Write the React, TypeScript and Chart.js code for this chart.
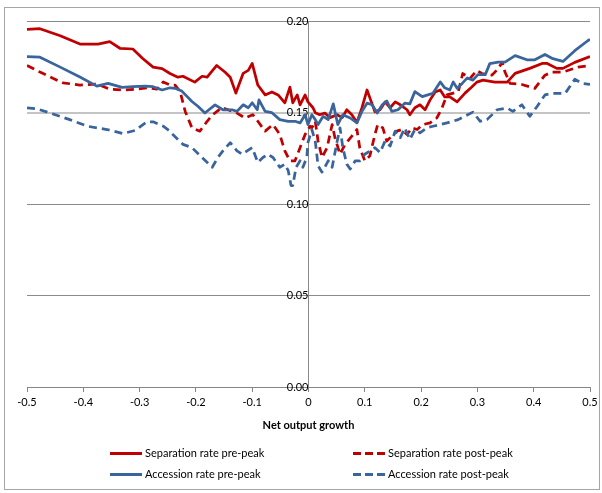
import React, { useEffect, useRef } from "react";
import { Chart, registerables } from "chart.js";

Chart.register(...registerables);

// ---- Data ----
const seriesLabels = [
  "Separation rate pre-peak",
  "Separation rate post-peak",
  "Accession rate pre-peak",
  "Accession rate post-peak",
];

const xTicks = [-0.5, -0.4, -0.3, -0.2, -0.1, 0, 0.1, 0.2, 0.3, 0.4, 0.5];
const yTicks = [0, 0.05, 0.1, 0.15, 0.2];

const sepPreX = [-0.5, -0.477, -0.441, -0.406, -0.374, -0.353, -0.335, -0.312, -0.294, -0.276, -0.26, -0.246, -0.232, -0.223, -0.202, -0.189, -0.18, -0.163, -0.148, -0.139, -0.129, -0.116, -0.107, -0.1, -0.09, -0.077, -0.065, -0.054, -0.042, -0.033, -0.028, -0.02, -0.015, -0.006, -0.001, 0.008, 0.012, 0.02, 0.029, 0.038, 0.051, 0.06, 0.068, 0.077, 0.086, 0.095, 0.104, 0.109, 0.118, 0.127, 0.136, 0.145, 0.154, 0.163, 0.175, 0.18, 0.189, 0.198, 0.207, 0.216, 0.225, 0.234, 0.242, 0.251, 0.264, 0.278, 0.29, 0.299, 0.31, 0.331, 0.353, 0.367, 0.393, 0.415, 0.424, 0.441, 0.452, 0.473, 0.5];
const sepPreY = [0.1954, 0.1958, 0.1919, 0.1874, 0.1874, 0.1887, 0.1851, 0.1847, 0.1794, 0.1748, 0.174, 0.1713, 0.1693, 0.1698, 0.1666, 0.1698, 0.1693, 0.1757, 0.172, 0.1693, 0.1606, 0.1714, 0.173, 0.1768, 0.165, 0.1596, 0.1612, 0.1596, 0.1553, 0.1639, 0.1553, 0.1596, 0.1542, 0.1596, 0.1558, 0.1526, 0.1499, 0.1488, 0.1497, 0.1472, 0.1488, 0.1472, 0.1515, 0.1488, 0.1445, 0.1526, 0.1623, 0.158, 0.1504, 0.1515, 0.1558, 0.1526, 0.1558, 0.1542, 0.1515, 0.1488, 0.1526, 0.1542, 0.1515, 0.1569, 0.1612, 0.1623, 0.1585, 0.1585, 0.1558, 0.1606, 0.1639, 0.1666, 0.1677, 0.1666, 0.1666, 0.1714, 0.1741, 0.1768, 0.1768, 0.1741, 0.1741, 0.1774, 0.1806];

const sepPostX = [-0.5, -0.477, -0.454, -0.436, -0.406, -0.376, -0.353, -0.329, -0.305, -0.285, -0.269, -0.258, -0.246, -0.237, -0.228, -0.219, -0.207, -0.193, -0.18, -0.17, -0.154, -0.143, -0.127, -0.113, -0.099, -0.09, -0.077, -0.063, -0.051, -0.042, -0.033, -0.024, -0.015, -0.006, 0.003, 0.006, 0.012, 0.017, 0.024, 0.033, 0.042, 0.047, 0.056, 0.065, 0.077, 0.086, 0.091, 0.1, 0.109, 0.118, 0.123, 0.132, 0.139, 0.148, 0.157, 0.166, 0.175, 0.184, 0.193, 0.203, 0.216, 0.228, 0.237, 0.246, 0.266, 0.274, 0.287, 0.299, 0.308, 0.326, 0.337, 0.344, 0.349, 0.358, 0.379, 0.402, 0.42, 0.433, 0.452, 0.479, 0.5];
const sepPostY = [0.1757, 0.1721, 0.1687, 0.1662, 0.165, 0.1655, 0.1628, 0.1623, 0.1628, 0.1635, 0.1628, 0.1667, 0.165, 0.165, 0.1614, 0.1506, 0.1416, 0.1398, 0.1452, 0.1488, 0.1527, 0.1515, 0.1497, 0.147, 0.1488, 0.1452, 0.1398, 0.1434, 0.138, 0.129, 0.1236, 0.1236, 0.1308, 0.138, 0.1425, 0.1416, 0.1452, 0.1344, 0.1254, 0.1308, 0.1434, 0.1362, 0.1272, 0.1326, 0.1371, 0.1407, 0.1308, 0.1236, 0.1263, 0.138, 0.1434, 0.1416, 0.1344, 0.1371, 0.1398, 0.1407, 0.138, 0.1416, 0.1407, 0.1434, 0.1443, 0.147, 0.1524, 0.1596, 0.1614, 0.1713, 0.1686, 0.173, 0.1713, 0.1704, 0.174, 0.1775, 0.1721, 0.1659, 0.1653, 0.1632, 0.1704, 0.1721, 0.1721, 0.1748, 0.1757];

const accPreX = [-0.5, -0.477, -0.441, -0.406, -0.376, -0.356, -0.331, -0.312, -0.29, -0.276, -0.26, -0.246, -0.237, -0.225, -0.207, -0.196, -0.184, -0.166, -0.152, -0.136, -0.127, -0.116, -0.107, -0.1, -0.091, -0.088, -0.077, -0.065, -0.051, -0.036, -0.024, -0.015, -0.006, -0.001, 0.006, 0.012, 0.017, 0.026, 0.035, 0.044, 0.052, 0.061, 0.074, 0.086, 0.095, 0.104, 0.113, 0.122, 0.131, 0.139, 0.148, 0.159, 0.171, 0.18, 0.189, 0.202, 0.212, 0.221, 0.234, 0.242, 0.251, 0.257, 0.264, 0.273, 0.282, 0.292, 0.301, 0.314, 0.322, 0.337, 0.349, 0.367, 0.388, 0.402, 0.42, 0.434, 0.452, 0.473, 0.496, 0.5];
const accPreY = [0.1806, 0.1802, 0.1748, 0.1694, 0.1644, 0.1659, 0.1637, 0.1641, 0.1644, 0.1641, 0.1623, 0.1635, 0.1632, 0.1617, 0.156, 0.1533, 0.1497, 0.1542, 0.1515, 0.1515, 0.1506, 0.1542, 0.1526, 0.1553, 0.1515, 0.1569, 0.1506, 0.1499, 0.1461, 0.1452, 0.1452, 0.1443, 0.1488, 0.1434, 0.1488, 0.1461, 0.1434, 0.1479, 0.1461, 0.1547, 0.1434, 0.1488, 0.147, 0.1443, 0.1506, 0.1551, 0.1542, 0.1497, 0.1542, 0.1563, 0.1506, 0.1515, 0.1551, 0.1547, 0.1614, 0.1587, 0.1596, 0.1605, 0.1667, 0.1635, 0.1623, 0.1667, 0.1632, 0.1659, 0.1689, 0.1677, 0.1707, 0.1707, 0.1767, 0.1775, 0.1775, 0.1811, 0.1788, 0.1788, 0.1817, 0.1794, 0.1779, 0.1838, 0.1892, 0.19];

const accPostX = [-0.5, -0.482, -0.459, -0.424, -0.393, -0.358, -0.329, -0.308, -0.287, -0.276, -0.258, -0.246, -0.241, -0.223, -0.207, -0.189, -0.171, -0.161, -0.152, -0.139, -0.127, -0.118, -0.109, -0.1, -0.09, -0.081, -0.072, -0.063, -0.051, -0.042, -0.036, -0.031, -0.028, -0.022, -0.015, -0.01, -0.003, -0.001, 0.006, 0.012, 0.017, 0.024, 0.029, 0.035, 0.042, 0.051, 0.056, 0.061, 0.068, 0.074, 0.083, 0.091, 0.1, 0.109, 0.118, 0.127, 0.136, 0.145, 0.154, 0.163, 0.171, 0.18, 0.189, 0.198, 0.21, 0.221, 0.234, 0.246, 0.266, 0.292, 0.305, 0.317, 0.335, 0.353, 0.363, 0.379, 0.393, 0.406, 0.42, 0.433, 0.456, 0.473, 0.486, 0.5];
const accPostY = [0.1526, 0.152, 0.1497, 0.1461, 0.1425, 0.1407, 0.1385, 0.1402, 0.1449, 0.1449, 0.1425, 0.1398, 0.138, 0.1326, 0.1308, 0.1254, 0.1201, 0.1254, 0.129, 0.1335, 0.129, 0.1272, 0.129, 0.1308, 0.1227, 0.1254, 0.1272, 0.1254, 0.1201, 0.1218, 0.1182, 0.1101, 0.1101, 0.1201, 0.1236, 0.1201, 0.1254, 0.1335, 0.1407, 0.1344, 0.1209, 0.1174, 0.1201, 0.1236, 0.1201, 0.1344, 0.1416, 0.1308, 0.1218, 0.1191, 0.1236, 0.1236, 0.1272, 0.129, 0.1308, 0.1281, 0.1344, 0.1317, 0.1398, 0.1362, 0.1416, 0.1353, 0.1407, 0.1389, 0.1416, 0.1425, 0.1434, 0.1443, 0.1461, 0.1502, 0.1452, 0.1461, 0.1515, 0.1524, 0.1506, 0.1542, 0.1479, 0.1533, 0.1596, 0.1605, 0.1605, 0.1682, 0.1659, 0.1653];

const RED = "#C00000";
const BLUE = "#3A659C";
const FONT = "Lato, 'Open Sans', sans-serif";

const toPoints = (xs: number[], ys: number[]) => xs.map((x, i) => ({ x, y: ys[i] }));

const legendPlugin = {
  id: "customLegend",
  beforeDraw(chart: any) {
    const ctx = chart.ctx;
    ctx.save();
    ctx.fillStyle = "#ffffff";
    ctx.fillRect(0, 0, chart.width, chart.height);
    ctx.strokeStyle = "#a6a6a6";
    ctx.lineWidth = 1;
    ctx.strokeRect(4.5, 7.5, 595, 482);
    ctx.restore();
  },
  afterDraw(chart: any) {
    const ctx = chart.ctx;
    const colLine = [110, 353];
    const rowY = [453, 474];
    const lineLen = 32;
    ctx.save();
    ctx.font = `11px ${FONT}`;
    ctx.textBaseline = "middle";
    ctx.textAlign = "left";
    chart.data.datasets.forEach((ds: any, i: number) => {
      const col = i % 2;
      const row = Math.floor(i / 2);
      const x0 = colLine[col];
      const y = rowY[row];
      ctx.beginPath();
      ctx.strokeStyle = ds.borderColor;
      ctx.lineWidth = 3;
      ctx.lineCap = "butt";
      ctx.setLineDash(ds.borderDash && ds.borderDash.length ? [8, 4] : []);
      ctx.moveTo(x0, y + 0.5);
      ctx.lineTo(x0 + lineLen, y + 0.5);
      ctx.stroke();
      ctx.setLineDash([]);
      ctx.fillStyle = "#000000";
      ctx.fillText(ds.label, x0 + lineLen + 3, y);
    });
    ctx.restore();
  },
};

export default function App() {
  const canvasRef = useRef<HTMLCanvasElement | null>(null);

  useEffect(() => {
    const canvas = canvasRef.current;
    if (!canvas) return;
    const mk = (i: number, xs: number[], ys: number[], color: string, dashed: boolean) => ({
      label: seriesLabels[i],
      data: toPoints(xs, ys),
      borderColor: color,
      backgroundColor: color,
      borderWidth: 2.75,
      borderDash: dashed ? [8, 5] : [],
      borderJoinStyle: "round" as const,
      pointRadius: 0,
      pointHoverRadius: 0,
      tension: 0,
      fill: false,
      order: 3 - i,
    });
    const chart = new Chart(canvas, {
      type: "line",
      data: {
        datasets: [
          mk(0, sepPreX, sepPreY, RED, false),
          mk(1, sepPostX, sepPostY, RED, true),
          mk(2, accPreX, accPreY, BLUE, false),
          mk(3, accPostX, accPostY, BLUE, true),
        ],
      },
      options: {
        animation: false,
        responsive: false,
        maintainAspectRatio: false,
        devicePixelRatio: 1,
        layout: { padding: { left: 27, right: 12, top: 21, bottom: 56.6 } },
        plugins: {
          legend: { display: false },
          tooltip: { enabled: false },
        },
        scales: {
          x: {
            type: "linear",
            position: "bottom",
            min: -0.5,
            max: 0.5,
            afterBuildTicks: (scale: any) => {
              scale.ticks = xTicks.map((v) => ({ value: v }));
            },
            ticks: {
              color: "#000",
              font: { family: FONT, size: 11 },
              padding: 4,
              maxRotation: 0,
              autoSkip: false,
              callback: (v: any) => {
                const r = Math.round(Number(v) * 10) / 10;
                return r === 0 ? "0" : r.toFixed(1);
              },
            },
            grid: {
              drawOnChartArea: false,
              drawTicks: true,
              tickLength: 5,
              color: "#868686",
            },
            border: { display: true, color: "#868686", width: 1 },
            title: {
              display: true,
              text: "Net output growth",
              color: "#000",
              font: { family: FONT, size: 11, weight: "bold" },
              padding: { top: 6, bottom: 4 },
            },
          },
          y: {
            type: "linear",
            position: { x: 0 } as any,
            min: 0,
            max: 0.2,
            afterBuildTicks: (scale: any) => {
              scale.ticks = yTicks.map((v) => ({ value: v }));
            },
            ticks: {
              color: "#000",
              font: { family: FONT, size: 11 },
              padding: 12,
              callback: (v: any) => Number(v).toFixed(2),
            },
            grid: {
              drawTicks: false,
              color: (c: any) =>
                c.tick && Math.abs(c.tick.value - 0.15) < 1e-9 ? "#c4c4c4" : "#8a8a8a",
              lineWidth: (c: any) =>
                c.tick && Math.abs(c.tick.value - 0.15) < 1e-9 ? 2 : 1,
            },
            border: { display: true, color: "#8a8a8a", width: 1 },
          },
        },
      },
      plugins: [legendPlugin],
    });
    return () => chart.destroy();
  }, []);

  return (
    <div style={{ position: "fixed", left: 0, top: 0, width: 602, height: 493, background: "#fff" }}>
      <canvas ref={canvasRef} width={602} height={493} style={{ width: 602, height: 493, display: "block" }} />
    </div>
  );
}
